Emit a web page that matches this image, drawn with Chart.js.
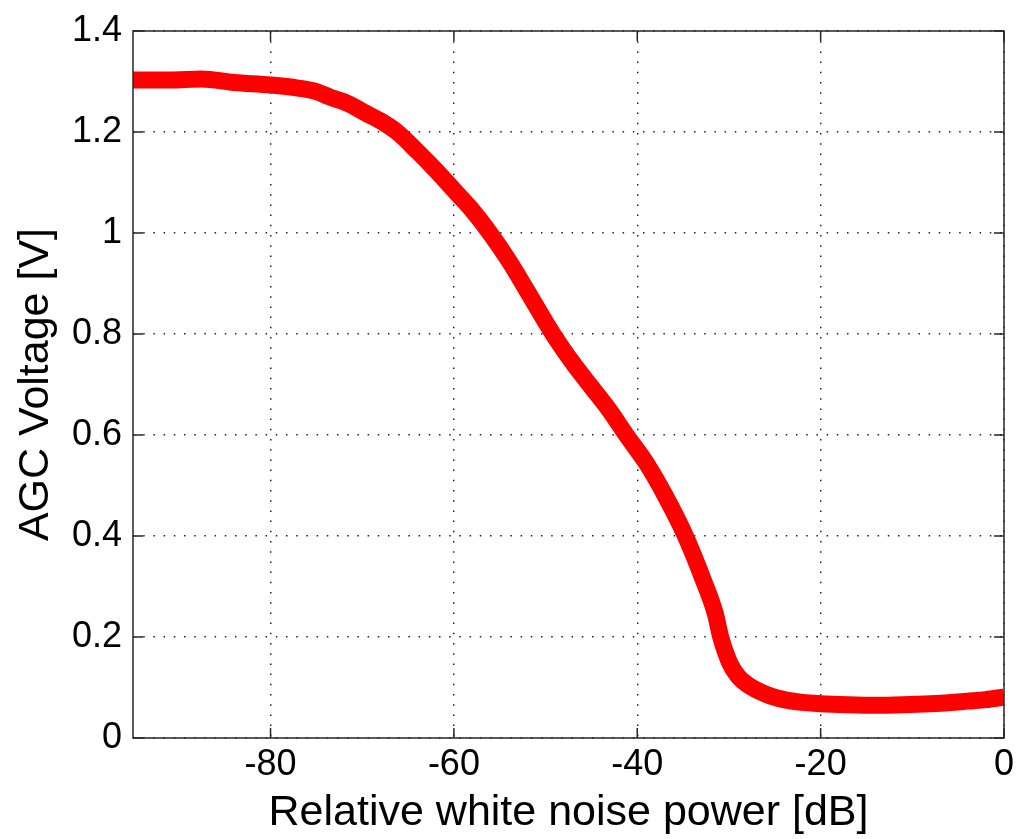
<!DOCTYPE html>
<html>
<head>
<meta charset="utf-8">
<title>AGC voltage vs noise power</title>
<script src="https://cdn.jsdelivr.net/npm/chart.js@4/dist/chart.umd.min.js"></script>
<style>
  html, body { margin: 0; padding: 0; background: #fff; }
  #wrap { width: 1021px; height: 839px; }
</style>
</head>
<body>
<div id="wrap"><canvas id="agcChart"></canvas></div>
<script>
// values
const noiseDb = [-95, -91, -87.5, -84, -80, -77, -75, -73.5, -71.5, -69.8, -68, -66.2, -64, -62, -60, -58, -56, -54, -52, -49.2,
  -47, -45, -43, -41.2, -39, -36.9, -34.8, -32.8, -31.5, -30.9, -29.9, -29, -28, -26, -24, -22, -20, -17, -14, -11,
  -8, -6, -4, -2, 0];
const agcVolts = [1.303, 1.303, 1.305, 1.298, 1.293, 1.287, 1.28, 1.269, 1.256, 1.239, 1.222, 1.2, 1.162, 1.125, 1.085, 1.045, 0.998, 0.945, 0.885, 0.8,
  0.742, 0.695, 0.648, 0.6, 0.544, 0.478, 0.402, 0.313, 0.247, 0.2, 0.148, 0.122, 0.106, 0.087, 0.076, 0.0705, 0.068, 0.066, 0.065, 0.066,
  0.068, 0.07, 0.073, 0.076, 0.081];
const xTicks = [-80, -60, -40, -20, 0];
const yTicks = [0, 0.2, 0.4, 0.6, 0.8, 1, 1.2, 1.4];

const points = noiseDb.map((x, i) => ({ x: x, y: agcVolts[i] }));
const axisColor = '#262626';

// matlab style box with inward ticks
const boxPlugin = {
  id: 'boxPlugin',
  afterDatasetsDraw(chart) {
    const { ctx, chartArea: a, scales } = chart;
    const len = 10;
    ctx.save();
    ctx.strokeStyle = axisColor;
    ctx.lineWidth = 1.5;
    ctx.beginPath();
    xTicks.forEach((v) => {
      const px = scales.x.getPixelForValue(v);
      ctx.moveTo(px, a.bottom); ctx.lineTo(px, a.bottom - len);
      ctx.moveTo(px, a.top); ctx.lineTo(px, a.top + len);
    });
    yTicks.forEach((v) => {
      const py = scales.y.getPixelForValue(v);
      ctx.moveTo(a.left, py); ctx.lineTo(a.left + len, py);
      ctx.moveTo(a.right, py); ctx.lineTo(a.right - len, py);
    });
    ctx.stroke();
    ctx.strokeRect(a.left, a.top, a.right - a.left, a.bottom - a.top);
    ctx.restore();
  }
};

const font = 'Liberation Sans, Arial, Helvetica, sans-serif';

new Chart(document.getElementById('agcChart'), {
  type: 'scatter',
  data: {
    datasets: [{
      label: 'AGC',
      data: points,
      showLine: true,
      borderColor: '#ff0000',
      backgroundColor: '#ff0000',
      borderWidth: 17,
      pointRadius: 0,
      cubicInterpolationMode: 'monotone',
      borderJoinStyle: 'round',
      clip: 0
    }]
  },
  options: {
    responsive: true,
    maintainAspectRatio: false,
    animation: false,
    layout: { padding: { top: 31, right: 17, left: 0, bottom: 0 } },
    plugins: { legend: { display: false }, tooltip: { enabled: false } },
    scales: {
      x: {
        type: 'linear',
        min: -95,
        max: 0,
        afterBuildTicks: (s) => { s.ticks = xTicks.map((v) => ({ value: v })); },
        afterFit: (s) => { s.height = 101; s.paddingRight = 0; s.paddingLeft = 0; },
        grid: { color: '#222', lineWidth: 1.5, drawTicks: false },
        border: { display: false, dash: [1.5, 8.7] },
        ticks: { color: '#000', padding: 5, font: { family: font, size: 36 }, maxRotation: 0, callback: (v) => String(v) },
        title: { display: true, text: 'Relative white noise power [dB]', color: '#000', padding: { top: 0, bottom: 0 }, font: { family: font, size: 43 } }
      },
      y: {
        type: 'linear',
        min: 0,
        max: 1.4,
        afterBuildTicks: (s) => { s.ticks = yTicks.map((v) => ({ value: v })); },
        afterFit: (s) => { s.width = 133; s.paddingTop = 0; s.paddingBottom = 0; },
        grid: { color: '#222', lineWidth: 1.5, drawTicks: false },
        border: { display: false, dash: [1.5, 8.7] },
        ticks: { color: '#000', padding: 11, font: { family: font, size: 36 }, callback: (v) => String(v) },
        title: { display: true, text: 'AGC Voltage [V]', color: '#000', padding: { top: 10, bottom: 0 }, font: { family: font, size: 43 } }
      }
    }
  },
  plugins: [boxPlugin]
});
</script>
</body>
</html>
